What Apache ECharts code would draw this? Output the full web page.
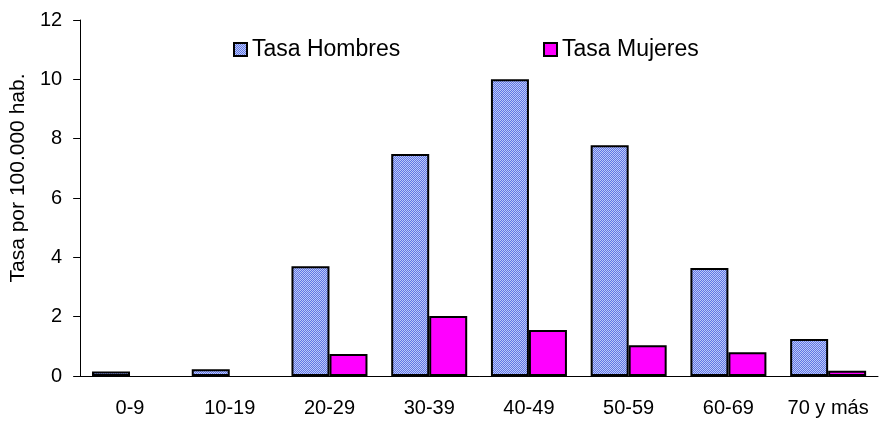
<!DOCTYPE html>
<html>
<head>
<meta charset="utf-8">
<script src="https://cdn.jsdelivr.net/npm/echarts@6/dist/echarts.min.js"></script>
<style>
  html, body { margin: 0; padding: 0; background: #fff; }
  #chart { width: 880px; height: 421px; }
</style>
</head>
<body>
<div id="chart"></div>
<script>
var categories = ['0-9', '10-19', '20-29', '30-39', '40-49', '50-59', '60-69', '70 y más'];
var hombres = [0.15, 0.23, 3.7, 7.48, 10.0, 7.78, 3.64, 1.25];
var mujeres = [0, 0, 0.74, 2.02, 1.55, 1.04, 0.8, 0.18];

// hatched blue fill like the original
function hatch() {
  var c = document.createElement('canvas');
  c.width = 4; c.height = 4;
  var ctx = c.getContext('2d');
  ctx.fillStyle = '#bccaf8';
  ctx.fillRect(0, 0, 4, 4);
  ctx.fillStyle = '#6075e4';
  for (var i = 0; i < 4; i++) {
    ctx.fillRect(i, 3 - i, 1, 1);
    ctx.fillRect((i + 2) % 4, 3 - i, 1, 1);
  }
  return c;
}
var pattern = { image: hatch(), repeat: 'repeat' };

var font = 'Liberation Sans, Arial, sans-serif';
var legendText = { fontFamily: font, fontSize: 23, color: '#000' };
var chart = echarts.init(document.getElementById('chart'));
chart.setOption({
  animation: false,
  grid: { left: 78, right: 2, top: 20, bottom: 45 },
  legend: [
    { data: ['Tasa Hombres'], left: 228, top: 33, icon: 'rect', itemWidth: 13, itemHeight: 13,
      itemStyle: { borderColor: '#000', borderWidth: 2 }, textStyle: legendText },
    { data: ['Tasa Mujeres'], left: 538, top: 33, icon: 'rect', itemWidth: 13, itemHeight: 13,
      itemStyle: { borderColor: '#000', borderWidth: 2 }, textStyle: legendText }
  ],
  xAxis: {
    type: 'category',
    data: categories,
    axisLine: { lineStyle: { color: '#000' } },
    axisTick: { length: 7, lineStyle: { color: '#000' } },
    axisLabel: { interval: 0, color: '#000', fontFamily: font, fontSize: 20, margin: 22 }
  },
  yAxis: {
    type: 'value',
    min: 0, max: 12, interval: 2,
    name: 'Tasa por 100.000 hab.',
    nameLocation: 'middle',
    nameGap: 48,
    nameTextStyle: { fontFamily: font, fontSize: 21, color: '#000', padding: [0, 0, 0, 40] },
    axisLine: { show: true, lineStyle: { color: '#000' } },
    axisTick: { show: true, length: 7, lineStyle: { color: '#000' } },
    splitLine: { show: false },
    axisLabel: { color: '#000', fontFamily: font, fontSize: 20, margin: 18 }
  },
  series: [
    {
      name: 'Tasa Hombres', type: 'bar', data: hombres,
      barWidth: 38, barGap: '0%',
      itemStyle: { color: pattern, borderColor: '#000', borderWidth: 2 }
    },
    {
      name: 'Tasa Mujeres', type: 'bar',
      data: mujeres.map(function (v) { return v === 0 ? '-' : v; }),
      barWidth: 38,
      itemStyle: { color: '#ff00ff', borderColor: '#000', borderWidth: 2 }
    }
  ]
});
</script>
</body>
</html>
